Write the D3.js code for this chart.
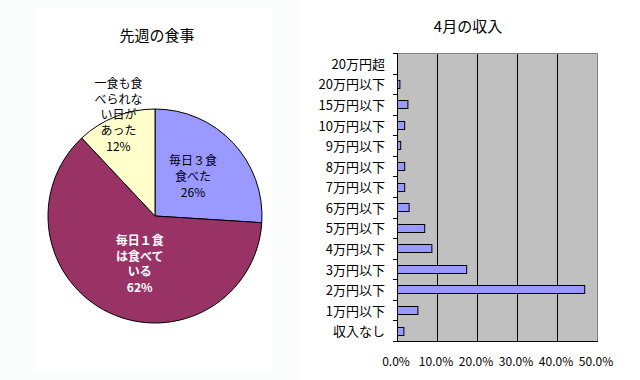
<!DOCTYPE html>
<html>
<head>
<meta charset="utf-8">
<script src="https://cdn.jsdelivr.net/npm/d3@7"></script>
<style>
  body { margin: 0; background: #fff; }
  svg { display: block; font-family: "Noto Sans CJK JP", sans-serif; }
</style>
</head>
<body>
<svg id="chart" width="640" height="380"></svg>
<script>
// pie: last week's meals
const pieTitle = '先週の食事';
const pieLabels = [['毎日３食', '食べた'], ['毎日１食', 'は食べて', 'いる'], ['一食も食', 'べられな', 'い日が', 'あった']];
const pieValues = [26, 62, 12];
const pieColors = ['#9999ff', '#993366', '#ffffcc'];

// bars: April income
const barTitle = '4月の収入';
const incomeCats = ['20万円超', '20万円以下', '15万円以下', '10万円以下', '9万円以下', '8万円以下',
    '7万円以下', '6万円以下', '5万円以下', '4万円以下', '3万円以下', '2万円以下', '1万円以下', '収入なし'];
const incomeShare = [0, 0.006, 0.026, 0.018, 0.008, 0.018, 0.018, 0.029, 0.068, 0.086, 0.173, 0.468, 0.051, 0.016];
const xTicks = [0, 0.1, 0.2, 0.3, 0.4, 0.5];

const svg = d3.select('#chart');

// backgrounds of the left panel
svg.append('rect').attr('x', 0).attr('y', 0).attr('width', 300).attr('height', 380).attr('fill', '#fbfdfd');
svg.append('rect').attr('x', 35).attr('y', 7).attr('width', 236).attr('height', 365).attr('fill', '#fff');

// ---- pie ----
function renderPie() {
    const cx = 155, cy = 216, r = 107;
    const g = svg.append('g').attr('transform', `translate(${cx},${cy})`);

    svg.append('text')
        .attr('x', 157).attr('y', 34)
        .attr('text-anchor', 'middle').attr('dominant-baseline', 'central')
        .attr('font-size', 15).text(pieTitle);

    const pie = d3.pie().sort(null).value(d => d)(pieValues);
    const arc = d3.arc().innerRadius(0).outerRadius(r);

    g.selectAll('path.slice')
        .data(pie)
        .enter().append('path')
        .attr('class', 'slice')
        .attr('d', arc)
        .attr('fill', (d, i) => pieColors[i])
        .attr('stroke', '#000')
        .attr('stroke-width', 1);

    // label distance from the centre, per slice
    const labelDist = [56, 49, 109];
    const labelTurn = [-4, -7, 2];
    const lineH = 15.8;

    pie.forEach((d, i) => {
        const mid = (d.startAngle + d.endAngle) / 2 + labelTurn[i] * Math.PI / 180;
        const lx = Math.sin(mid) * labelDist[i];
        const ly = -Math.cos(mid) * labelDist[i];
        const lines = pieLabels[i].concat([pieValues[i] + '%']);
        const top = ly - (lines.length - 1) * lineH / 2;
        const dark = i === 1;
        const t = g.append('text')
            .attr('text-anchor', 'middle')
            .attr('dominant-baseline', 'central')
            .attr('font-size', 12)
            .attr('font-weight', dark ? 'bold' : 'normal')
            .attr('fill', dark ? '#fff' : '#000');
        lines.forEach((s, k) => {
            t.append('tspan').attr('x', lx).attr('y', top + k * lineH).text(s);
        });
    });
}

// ---- bars ----
function renderBars() {
    const left = 397, right = 597, top = 53, bottom = 341;

    const x = d3.scaleLinear().domain([0, 0.5]).range([left, right]);
    const y = d3.scaleBand().domain(incomeCats).range([top, bottom]).padding(0);

    svg.append('text')
        .attr('x', 468).attr('y', 25)
        .attr('text-anchor', 'middle').attr('dominant-baseline', 'central')
        .attr('font-size', 15).text(barTitle);

    svg.append('rect')
        .attr('x', left).attr('y', top)
        .attr('width', right - left).attr('height', bottom - top)
        .attr('fill', '#c0c0c0');

    // grid lines
    svg.selectAll('line.grid')
        .data(xTicks.slice(1, -1))
        .enter().append('line')
        .attr('class', 'grid')
        .attr('x1', d => Math.round(x(d)) + 0.5).attr('x2', d => Math.round(x(d)) + 0.5)
        .attr('y1', top).attr('y2', bottom)
        .attr('stroke', '#000');

    // frame top/right
    svg.append('path')
        .attr('d', `M${left},${top + 0.5}H${right + 0.5}V${bottom}`)
        .attr('fill', 'none').attr('stroke', '#808080');

    // bars
    const barData = incomeCats.map((c, i) => ({cat: c, v: incomeShare[i]})).filter(d => d.v > 0);
    svg.selectAll('rect.bar')
        .data(barData)
        .enter().append('rect')
        .attr('class', 'bar')
        .attr('x', left + 0.5)
        .attr('y', d => Math.round(y(d.cat) + y.bandwidth() * 0.3) + 0.5)
        .attr('width', d => x(d.v) - left)
        .attr('height', Math.round(y.bandwidth() * 0.38))
        .attr('fill', '#9999ff')
        .attr('stroke', '#000');

    // left axis with ticks on band edges
    const edges = incomeCats.map(c => y(c)).concat([bottom]);
    svg.selectAll('line.ytick')
        .data(edges)
        .enter().append('line')
        .attr('class', 'ytick')
        .attr('x1', left - 4).attr('x2', left)
        .attr('y1', d => Math.round(d) + 0.5).attr('y2', d => Math.round(d) + 0.5)
        .attr('stroke', '#000');
    svg.append('line')
        .attr('x1', left + 0.5).attr('x2', left + 0.5)
        .attr('y1', top).attr('y2', bottom + 1)
        .attr('stroke', '#000');
    svg.append('line')
        .attr('x1', left).attr('x2', right + 1)
        .attr('y1', bottom + 0.5).attr('y2', bottom + 0.5)
        .attr('stroke', '#000');

    svg.selectAll('text.ylab')
        .data(incomeCats)
        .enter().append('text')
        .attr('class', 'ylab')
        .attr('x', 385)
        .attr('y', d => y(d) + y.bandwidth() / 2)
        .attr('text-anchor', 'end').attr('dominant-baseline', 'central')
        .attr('font-size', 13)
        .text(d => d);

    svg.selectAll('text.xlab')
        .data(xTicks)
        .enter().append('text')
        .attr('class', 'xlab')
        .attr('x', d => x(d) - 1)
        .attr('y', 360)
        .attr('text-anchor', 'middle').attr('dominant-baseline', 'central')
        .attr('font-size', 12)
        .text(d3.format('.1%'));
}

renderPie();
renderBars();
</script>
</body>
</html>
